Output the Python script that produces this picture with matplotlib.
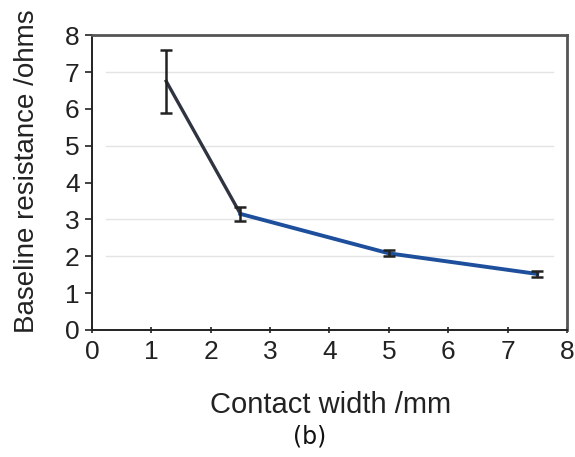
import matplotlib
matplotlib.use('Agg')
import matplotlib.pyplot as plt

# contact width (mm), baseline resistance (ohms) and error half-widths
width_mm = [1.25, 2.5, 5.0, 7.5]
resistance = [6.75, 3.15, 2.08, 1.52]
res_err = [0.85, 0.2, 0.08, 0.08]
grid_levels = [2, 3, 5, 7]

plt.rcParams['font.family'] = ['Liberation Sans', 'DejaVu Sans']

fig = plt.figure(figsize=(5.75, 4.57), dpi=100)
ax = fig.add_axes([0.160, 0.278, 0.826, 0.645])

for g in grid_levels:
    ax.axhline(g, xmin=0.03, xmax=0.97, color='#e4e4e4', lw=1.0, zorder=0)

# first segment is darker than the rest of the curve
ax.plot(width_mm[:2], resistance[:2], color='#2f3440', lw=2.4, zorder=2)
ax.plot(width_mm[1:], resistance[1:], color='#1d4f9c', lw=2.8, zorder=2)
ax.errorbar(width_mm, resistance, yerr=res_err, fmt='none', ecolor='#222222',
            elinewidth=1.8, capsize=4, capthick=1.8, zorder=3)

ax.set_xlim(0, 8)
ax.set_ylim(0, 8)
ax.set_xticks(range(0, 9))
ax.set_yticks(range(0, 9))
ax.tick_params(axis='both', labelsize=19, colors='#222222', width=1.2, length=5)
ax.tick_params(axis='x', direction='inout', pad=5)
ax.tick_params(axis='y', direction='out', pad=4)

ax.set_xlabel('Contact width /mm', fontsize=21, color='#222222')
ax.set_ylabel('Baseline resistance /ohms', fontsize=20, color='#222222')
ax.xaxis.set_label_coords(0.503, -0.254)
ax.yaxis.set_label_coords(-0.137, 0.54)
ax.xaxis.label.set_va('center')
ax.yaxis.label.set_va('center')

for side in ['left', 'bottom']:
    ax.spines[side].set_color('#222222')
    ax.spines[side].set_linewidth(1.4)
for side in ['top', 'right']:
    ax.spines[side].set_color('#555555')
    ax.spines[side].set_linewidth(2.0)

fig.text(0.538, 0.045, '(b)', ha='center', va='center', fontsize=17,
         family='DejaVu Sans', color='#111111')

fig.savefig('out.png', dpi=100)
